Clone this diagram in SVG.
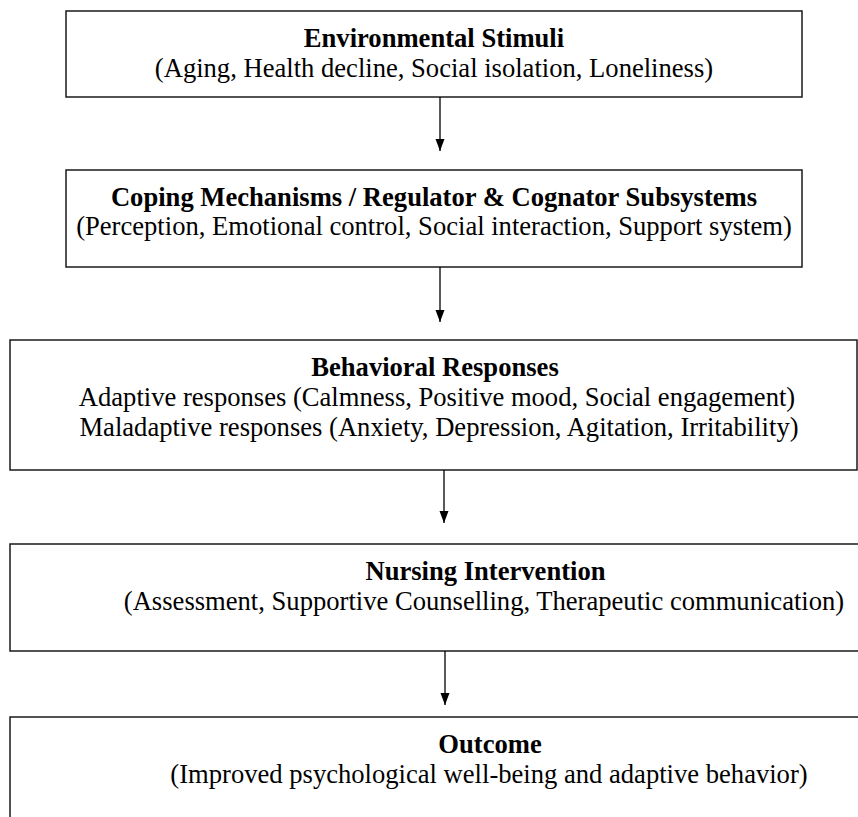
<svg xmlns="http://www.w3.org/2000/svg" width="858" height="817" viewBox="0 0 858 817">
<style>
.box{fill:#fff;stroke:#1a1a1a;stroke-width:1.5}
.t{font-family:"Liberation Serif","Times New Roman",serif;font-size:26.6px;fill:#000;text-anchor:middle}
.b{font-weight:bold}
.c{stroke:#000;stroke-width:1.3;fill:none}
</style>
<defs>
<marker id="ah" markerWidth="12" markerHeight="16" refX="16" refY="6" orient="auto" markerUnits="userSpaceOnUse" viewBox="0 0 16 12">
<path d="M0,0 L16,6 L0,12 Z" fill="#000"/>
</marker>
</defs>
<rect width="858" height="817" fill="#fff"/>
<g id="n1">
<rect class="box" x="66" y="11" width="736" height="86"/>
<text class="t b" x="434" y="46.5">Environmental Stimuli</text>
<text class="t" x="434" y="76.5">(Aging, Health decline, Social isolation, Loneliness)</text>
</g>
<g id="n2">
<rect class="box" x="66" y="170" width="736" height="97"/>
<text class="t b" x="434" y="205.5">Coping Mechanisms / Regulator &amp; Cognator Subsystems</text>
<text class="t" x="434" y="235">(Perception, Emotional control, Social interaction, Support system)</text>
</g>
<g id="n3">
<rect class="box" x="10" y="340" width="847" height="130"/>
<text class="t b" x="435" y="375.5">Behavioral Responses</text>
<text class="t" x="437" y="405.5">Adaptive responses (Calmness, Positive mood, Social engagement)</text>
<text class="t" x="439" y="435.5">Maladaptive responses (Anxiety, Depression, Agitation, Irritability)</text>
</g>
<g id="n4">
<path class="box" d="M860,544 H10 V651 H860"/>
<text class="t b" x="485.5" y="579.5">Nursing Intervention</text>
<text class="t" x="484" y="609.5">(Assessment, Supportive Counselling, Therapeutic communication)</text>
</g>
<g id="n5">
<path class="box" d="M860,717 H10 V820"/>
<text class="t b" x="490" y="752.5">Outcome</text>
<text class="t" x="489" y="782.5">(Improved psychological well-being and adaptive behavior)</text>
</g>
<g id="connectors">
<line class="c" x1="440" y1="97" x2="440" y2="151" marker-end="url(#ah)"/>
<line class="c" x1="440" y1="267" x2="440" y2="322" marker-end="url(#ah)"/>
<line class="c" x1="444" y1="470" x2="444" y2="523" marker-end="url(#ah)"/>
<line class="c" x1="445" y1="651" x2="445" y2="705" marker-end="url(#ah)"/>
</g>
</svg>
